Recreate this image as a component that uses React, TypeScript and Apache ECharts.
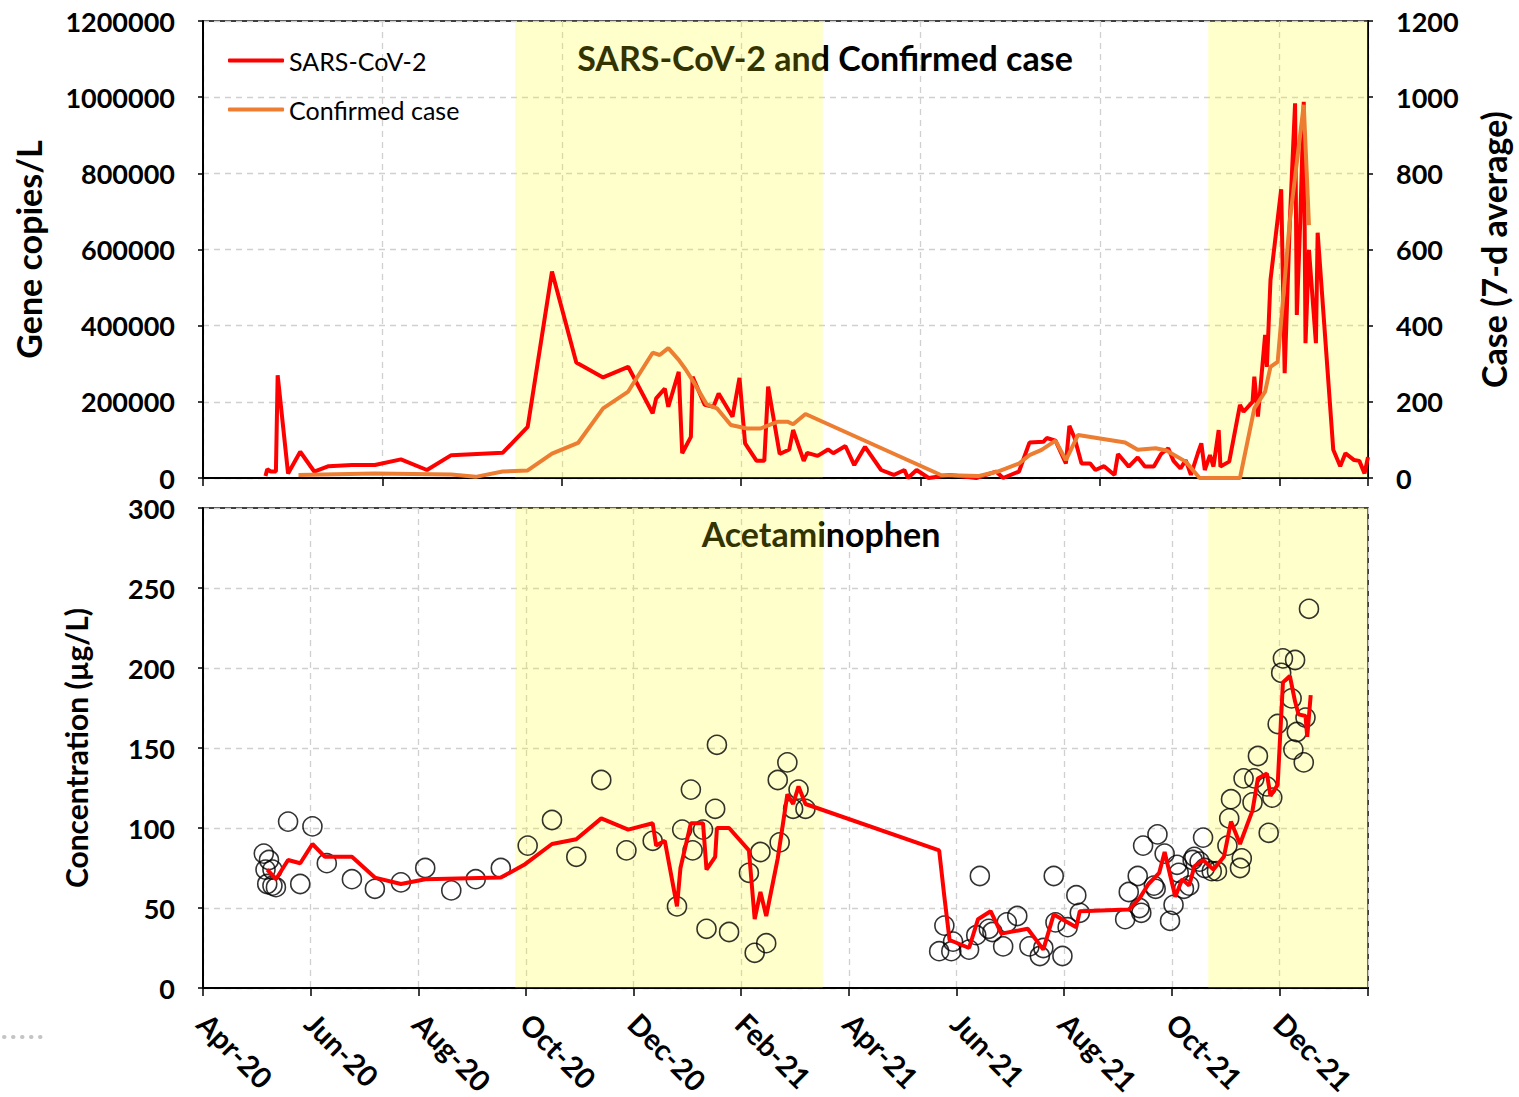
import React, { useEffect, useRef } from "react";
import * as echarts from "echarts";

// ---------- DATA ----------
const X_START = "2020-04-01";
const X_END = "2022-01-21";
const X_TICK_LABELS = ["Apr-20", "Jun-20", "Aug-20", "Oct-20", "Dec-20", "Feb-21", "Apr-21", "Jun-21", "Aug-21", "Oct-21", "Dec-21"];
const SHADE_PERIODS = [["2020-09-25", "2021-03-17"], ["2021-10-22", "2022-01-21"]];

const sarsDates = [
  "2020-05-06","2020-05-07","2020-05-09","2020-05-12","2020-05-13","2020-05-19","2020-05-26","2020-06-03","2020-06-11","2020-06-24",
  "2020-07-07","2020-07-22","2020-08-06","2020-08-20","2020-09-18","2020-10-02","2020-10-16","2020-10-30","2020-11-14","2020-11-28",
  "2020-12-12","2020-12-14","2020-12-19","2020-12-21","2020-12-27","2020-12-29","2021-01-03","2021-01-04","2021-01-11","2021-01-16",
  "2021-01-19","2021-01-27","2021-01-31","2021-02-03","2021-02-09","2021-02-13","2021-02-15","2021-02-21","2021-02-26","2021-02-28",
  "2021-03-06","2021-03-08","2021-03-14","2021-03-20","2021-03-23","2021-03-30","2021-04-04","2021-04-10","2021-04-19","2021-04-26",
  "2021-05-02","2021-05-04","2021-05-09","2021-05-16","2021-05-28","2021-06-12","2021-06-23","2021-06-27","2021-07-06","2021-07-12",
  "2021-07-20","2021-07-22","2021-07-27","2021-08-02","2021-08-04","2021-08-07","2021-08-11","2021-08-16","2021-08-19","2021-08-24",
  "2021-08-30","2021-09-01","2021-09-07","2021-09-12","2021-09-16","2021-09-21","2021-09-25","2021-09-29","2021-10-02","2021-10-06",
  "2021-10-09","2021-10-12","2021-10-16","2021-10-18","2021-10-20","2021-10-23","2021-10-25","2021-10-28","2021-10-29","2021-11-03",
  "2021-11-09","2021-11-11","2021-11-16","2021-11-17","2021-11-19","2021-11-23","2021-11-24","2021-11-26","2021-12-02","2021-12-04",
  "2021-12-07","2021-12-10","2021-12-11","2021-12-13","2021-12-15","2021-12-16","2021-12-18","2021-12-22","2021-12-23","2022-01-01",
  "2022-01-05","2022-01-08","2022-01-13","2022-01-16","2022-01-19","2022-01-21"
];
const sarsValues = [
  5000,23000,17000,17000,270000,12000,69000,17000,31000,34000,
  34000,49000,21000,60000,66000,134000,542000,303000,264000,292000,
  170000,209000,235000,187000,279000,65000,108000,266000,192000,187000,
  222000,161000,263000,91000,45000,45000,240000,63000,75000,126000,
  45000,66000,58000,75000,65000,84000,34000,82000,21000,8000,
  21000,0,21000,0,8000,0,17000,0,17000,93000,
  95000,105000,98000,38000,137000,105000,38000,38000,21000,31000,
  8000,63000,30000,54000,30000,30000,63000,78000,45000,25000,
  47000,8000,65000,91000,21000,60000,30000,126000,30000,43000,
  192000,174000,200000,266000,161000,376000,292000,520000,758000,275000,
  677000,984000,428000,677000,988000,354000,599000,354000,644000,74000,
  31000,65000,47000,45000,12000,55000
];

const caseDates = [
  "2020-05-25","2020-07-07","2020-08-20","2020-09-03","2020-09-18","2020-10-02","2020-10-16","2020-10-31","2020-11-14","2020-11-28",
  "2020-12-12","2020-12-16","2020-12-21","2020-12-27","2020-12-31","2021-01-05","2021-01-12","2021-01-18","2021-01-26","2021-02-04",
  "2021-02-11","2021-02-20","2021-02-25","2021-02-28","2021-03-07","2021-05-23","2021-06-13","2021-06-24","2021-07-06","2021-07-12",
  "2021-07-19","2021-07-27","2021-08-02","2021-08-09","2021-09-05","2021-09-12","2021-09-22","2021-09-28","2021-10-09","2021-10-17",
  "2021-11-09","2021-11-17","2021-11-23","2021-11-26","2021-11-30","2021-12-07","2021-12-15","2021-12-18"
];
const caseValues = [
  8,12,9,3,17,20,64,92,183,227,
  329,323,341,310,285,249,194,183,139,130,
  130,148,148,141,168,8,5,17,38,60,
  74,98,47,113,93,74,78,72,43,0,
  0,183,227,292,305,677,980,664
];

const apapDates = [
  "2020-05-05","2020-05-08","2020-05-06","2020-05-10","2020-05-07","2020-05-10","2020-05-12","2020-05-19","2020-05-26","2020-06-02",
  "2020-06-10","2020-06-24","2020-07-07","2020-07-22","2020-08-05","2020-08-20","2020-09-03","2020-09-17","2020-10-02","2020-10-16",
  "2020-10-30","2020-11-13","2020-11-27","2020-12-12","2020-12-26","2020-12-29","2021-01-03","2021-01-04","2021-01-10","2021-01-12",
  "2021-01-17","2021-01-18","2021-01-25","2021-02-05","2021-02-08","2021-02-11","2021-02-14","2021-02-20","2021-02-21","2021-02-25",
  "2021-02-28","2021-03-03","2021-03-07","2021-05-22","2021-05-25","2021-05-29","2021-05-30","2021-06-08","2021-06-12","2021-06-14",
  "2021-06-19","2021-06-21","2021-06-27","2021-06-29","2021-07-05","2021-07-12","2021-07-18","2021-07-20","2021-07-26","2021-07-27",
  "2021-07-31","2021-08-03","2021-08-08","2021-08-10","2021-09-05","2021-09-07","2021-09-12","2021-09-13","2021-09-14","2021-09-15",
  "2021-09-21","2021-09-22","2021-09-23","2021-09-27","2021-09-30","2021-10-02","2021-10-04","2021-10-05","2021-10-08","2021-10-11",
  "2021-10-13","2021-10-14","2021-10-17","2021-10-19","2021-10-20","2021-10-24","2021-10-27","2021-11-02","2021-11-03","2021-11-04",
  "2021-11-09","2021-11-10","2021-11-11","2021-11-16","2021-11-17","2021-11-19","2021-11-24","2021-11-25","2021-11-27","2021-11-30",
  "2021-12-02","2021-12-03","2021-12-08","2021-12-09","2021-12-10","2021-12-11","2021-12-15","2021-12-16","2021-12-18"
];
const apapValues = [
  84,80,74,74,65,64,63,104,65,101,
  78,68,62,66,75,61,68,75,89,105,
  82,130,86,92,51,99,124,86,99,37,
  112,152,35,72,22,85,28,130,91,141,
  112,124,112,23,39,23,29,24,33,70,
  37,35,26,41,45,26,20,25,70,41,
  20,38,58,47,43,60,70,50,47,89,
  64,62,96,84,42,52,77,72,62,64,
  80,82,79,94,75,73,73,89,106,118,
  75,81,131,116,131,145,126,97,119,165,
  197,206,181,149,205,160,141,169,237
];

const apapAvgDates = [
  "2020-05-07","2020-05-12","2020-05-19","2020-05-26","2020-06-02","2020-06-09","2020-06-24","2020-07-07","2020-07-22","2020-08-05",
  "2020-09-17","2020-09-30","2020-10-16","2020-10-30","2020-11-13","2020-11-28","2020-12-12","2020-12-14","2020-12-19","2020-12-26",
  "2020-12-28","2021-01-03","2021-01-10","2021-01-12","2021-01-17","2021-01-18","2021-01-25","2021-02-05","2021-02-08","2021-02-11",
  "2021-02-14","2021-02-20","2021-02-25","2021-02-28","2021-03-03","2021-03-07","2021-05-22","2021-05-25","2021-05-28","2021-06-08",
  "2021-06-13","2021-06-20","2021-06-26","2021-07-11","2021-07-20","2021-07-26","2021-08-08","2021-08-10","2021-09-07","2021-09-13",
  "2021-09-18","2021-09-24","2021-09-27","2021-10-03","2021-10-07","2021-10-11","2021-10-14","2021-10-19","2021-10-25","2021-10-31",
  "2021-11-04","2021-11-09","2021-11-16","2021-11-19","2021-11-24","2021-11-26","2021-11-30","2021-12-03","2021-12-07","2021-12-10",
  "2021-12-12","2021-12-16","2021-12-17","2021-12-19"
];
const apapAvgValues = [
  74,68,80,78,90,82,82,69,65,68,
  69,77,90,93,106,99,103,89,92,51,
  75,103,103,74,82,100,100,86,43,60,
  45,81,121,115,126,115,86,57,30,25,
  43,48,34,37,24,46,38,48,49,56,
  65,72,85,57,68,64,76,80,74,82,
  104,90,111,131,134,120,127,191,195,179,
  171,170,157,183
];

// ---------- HELPERS ----------
const toM = (s: string) => {
  const [y, m, d] = s.split("-").map(Number);
  const dim = new Date(y, m, 0).getDate();
  return (y - 2020) * 12 + (m - 4) + (d - 1) / dim;
};
const pairs = (dates: string[], vals: number[]) => dates.map((d, i) => [toM(d), vals[i]]);

const FONT = "Lato";

export default function App() {
  const ref = useRef<HTMLDivElement>(null);
  useEffect(() => {
    if (!ref.current) return;
    const chart = echarts.init(ref.current, undefined, { renderer: "svg" });
    const xMin = toM(X_START);
    const xMax = toM(X_END);
    const shade = SHADE_PERIODS.map(([a, b]) => [{ xAxis: toM(a) }, { xAxis: toM(b) }]);
    const grid = "#000";
    const dashed = { show: true, lineStyle: { color: "#d0d0d0", type: [6, 5] as any, width: 1.3 } };
    const yLabel = { fontFamily: FONT, fontWeight: "bold" as const, fontSize: 27, lineHeight: 20, color: "#000", margin: 28 };
    const LW = 4;

    const option: any = {
      animation: false,
      backgroundColor: "#fff",
      textStyle: { fontFamily: FONT },
      grid: [
        { left: 203, right: 151, top: 21, height: 457, show: true, borderColor: grid, borderWidth: 1.5, backgroundColor: "transparent", outerBoundsMode: "none", containLabel: false },
        { left: 203, right: 151, top: 508, height: 480, show: true, borderColor: grid, borderWidth: 1.5, backgroundColor: "transparent", outerBoundsMode: "none", containLabel: false },
      ],
      legend: {
        orient: "vertical",
        left: 223,
        top: 43,
        icon: "roundRect",
        itemWidth: 56,
        itemHeight: 4,
        itemGap: 24,
        textStyle: { fontFamily: FONT, fontSize: 25, color: "#000" },
        data: ["SARS-CoV-2", "Confirmed case"],
      },
      xAxis: [
        {
          type: "value", gridIndex: 0, min: xMin, max: xMax, interval: 10 / 3,
          axisLine: { lineStyle: { color: grid, width: 2 } },
          axisTick: { show: true, length: 8, lineStyle: { color: grid, width: 1.5 } },
          axisLabel: { show: false },
          splitLine: dashed,
        },
        {
          type: "value", gridIndex: 1, min: xMin, max: xMax, interval: 2,
          axisLine: { lineStyle: { color: grid, width: 2 } },
          axisTick: { show: true, length: 8, lineStyle: { color: grid, width: 1.5 } },
          axisLabel: {
            rotate: -45, margin: 30, fontFamily: FONT, fontWeight: "bold", fontSize: 29, color: "#000",
            formatter: (v: number) => {
              const r = Math.round(v);
              if (Math.abs(v - r) > 1e-6 || r % 2 !== 0) return "";
              return X_TICK_LABELS[r / 2] ?? "";
            },
          },
          splitLine: dashed,
        },
      ],
      yAxis: [
        {
          type: "value", gridIndex: 0, min: 0, max: 1200000, interval: 200000,
          name: "Gene copies/L", nameLocation: "middle", nameGap: 158, nameRotate: 90,
          nameTextStyle: { fontFamily: FONT, fontWeight: "bold", fontSize: 34, color: "#000" },
          axisLine: { show: true, lineStyle: { color: grid, width: 2 } },
          axisTick: { show: true, length: 5, lineStyle: { color: grid, width: 1.5 } },
          axisLabel: { ...yLabel, formatter: (v: number) => String(v) },
          splitLine: dashed,
        },
        {
          type: "value", gridIndex: 0, position: "right", min: 0, max: 1200, interval: 200,
          name: "Case (7-d average)", nameLocation: "middle", nameGap: 108, nameRotate: 90,
          nameTextStyle: { fontFamily: FONT, fontWeight: "bold", fontSize: 34, color: "#000" },
          axisLine: { show: true, lineStyle: { color: grid, width: 2 } },
          axisTick: { show: true, length: 5, lineStyle: { color: grid, width: 1.5 } },
          axisLabel: { ...yLabel, formatter: (v: number) => String(v) },
          splitLine: { show: false },
        },
        {
          type: "value", gridIndex: 1, min: 0, max: 300, interval: 50,
          name: "Concentration (µg/L)", nameLocation: "middle", nameGap: 112, nameRotate: 90,
          nameTextStyle: { fontFamily: FONT, fontWeight: "bold", fontSize: 30, color: "#000" },
          axisLine: { show: true, lineStyle: { color: grid, width: 2 } },
          axisTick: { show: true, length: 5, lineStyle: { color: grid, width: 1.5 } },
          axisLabel: { ...yLabel },
          splitLine: dashed,
        },
      ],
      series: [
        {
          name: "SARS-CoV-2", type: "line", xAxisIndex: 0, yAxisIndex: 0, symbol: "none",
          color: "#ff0000", lineStyle: { color: "#ff0000", width: LW },
          data: pairs(sarsDates, sarsValues), z: 3,
        },
        {
          name: "Confirmed case", type: "line", xAxisIndex: 0, yAxisIndex: 1, symbol: "none",
          color: "#ED7D31", lineStyle: { color: "#ED7D31", width: LW },
          data: pairs(caseDates, caseValues), z: 4,
        },
        {
          name: "shadeTop", type: "line", xAxisIndex: 0, yAxisIndex: 0, data: [], z: 10, silent: true,
          markArea: { silent: true, itemStyle: { color: "rgba(255,255,0,0.2)" }, data: shade },
        },
        {
          name: "Acetaminophen", type: "scatter", xAxisIndex: 1, yAxisIndex: 2, symbol: "circle", symbolSize: 19,
          itemStyle: { color: "rgba(0,0,0,0)", borderColor: "#000", borderWidth: 1.6 },
          data: pairs(apapDates, apapValues), z: 3,
        },
        {
          name: "Acetaminophen avg", type: "line", xAxisIndex: 1, yAxisIndex: 2, symbol: "none",
          lineStyle: { color: "#ff0000", width: LW },
          data: pairs(apapAvgDates, apapAvgValues), z: 4,
        },
        {
          name: "shadeBottom", type: "line", xAxisIndex: 1, yAxisIndex: 2, data: [], z: 10, silent: true,
          markArea: { silent: true, itemStyle: { color: "rgba(255,255,0,0.2)" }, data: shade },
        },
      ],
      graphic: [
        {
          type: "text", x: 825, y: 57, z: 1,
          style: { text: "SARS-CoV-2 and Confirmed case", font: `bold 34px ${FONT}`, fill: "#000", align: "center", verticalAlign: "middle" },
        },
        {
          type: "text", x: 821, y: 533, z: 1,
          style: { text: "Acetaminophen", font: `bold 34px ${FONT}`, fill: "#000", align: "center", verticalAlign: "middle" },
        },
        {
          type: "line", z: 1,
          shape: { x1: 4, y1: 1037, x2: 46, y2: 1037 },
          style: { stroke: "#c4c4c4", lineWidth: 4, lineDash: [0.5, 8.5], lineCap: "round" },
        },
      ],
    };
    chart.setOption(option);
    return () => chart.dispose();
  }, []);
  return <div ref={ref} style={{ position: "absolute", left: 0, top: 0, width: 1519, height: 1097 }} />;
}
